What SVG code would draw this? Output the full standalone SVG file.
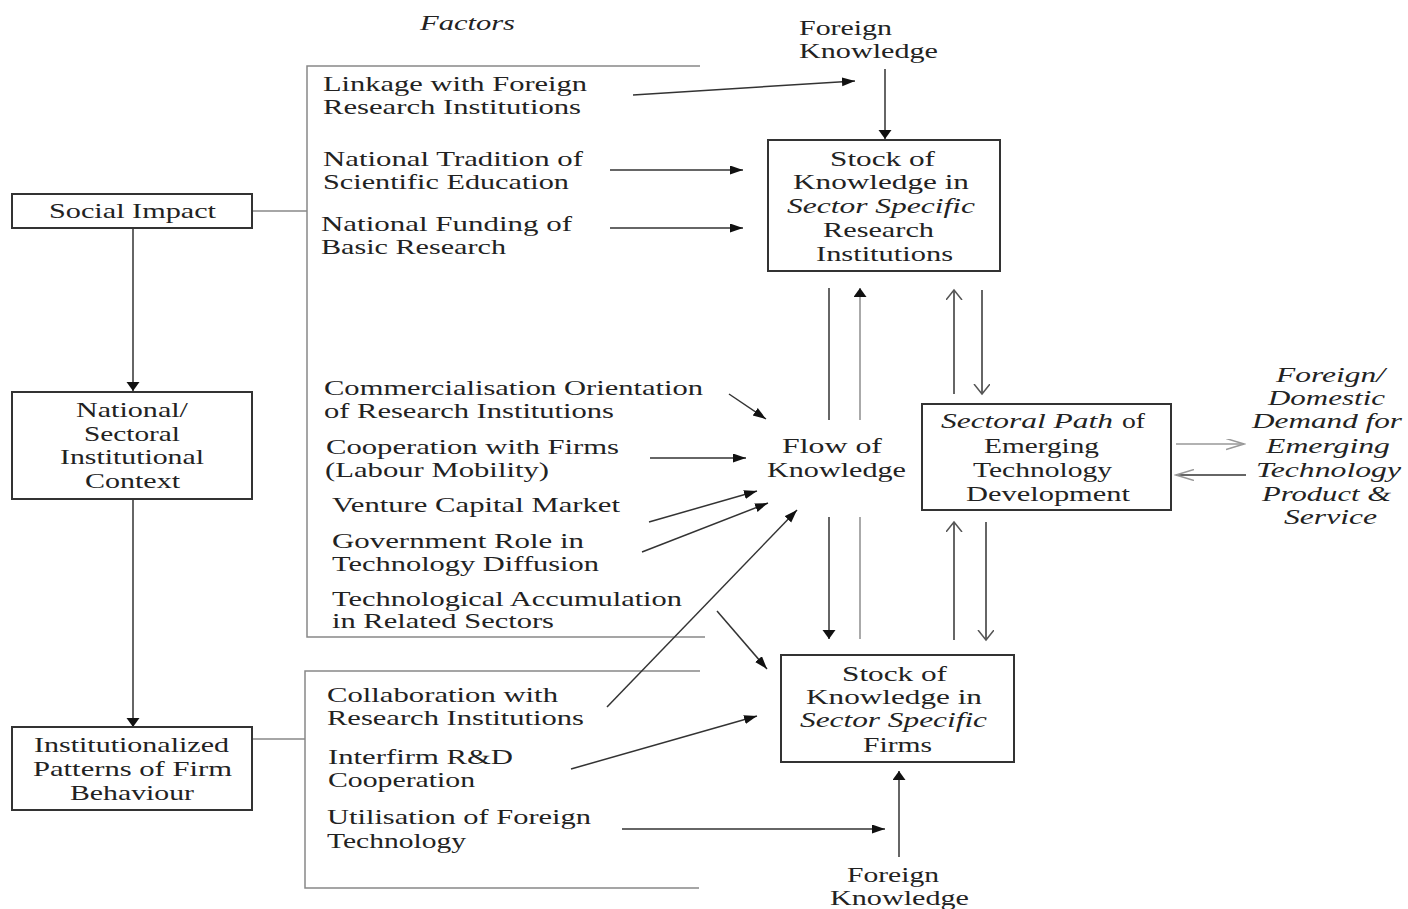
<svg xmlns="http://www.w3.org/2000/svg" width="1408" height="909" viewBox="0 0 1408 909">
<style>
text{font-family:"Liberation Serif","Times New Roman",serif;font-size:21px;fill:#222}
.i{font-style:italic}
.box{fill:#fff;stroke:#333;stroke-width:2}
.ln{fill:none;stroke:#333;stroke-width:1.5}
.br{fill:none;stroke:#888;stroke-width:1.5}
.gr{fill:none;stroke:#aaa;stroke-width:2}
.gr2{fill:none;stroke:#999;stroke-width:1.5}
</style>
<defs>
<marker id="ah" markerUnits="userSpaceOnUse" markerWidth="14" markerHeight="10" refX="13" refY="4.5" orient="auto"><path d="M0,0 L13,4.5 L0,9 z" fill="#111"/></marker>
<marker id="av" markerUnits="userSpaceOnUse" markerWidth="10" markerHeight="14" refX="9" refY="6.5" orient="auto"><path d="M0,0 L9,6.5 L0,13 z" fill="#111"/></marker>
<marker id="ov" markerUnits="userSpaceOnUse" markerWidth="12" markerHeight="18" refX="10" refY="8" orient="auto"><path d="M0,0 L10,8 L0,16" fill="none" stroke="#555" stroke-width="1.5"/></marker>
<marker id="oh" markerUnits="userSpaceOnUse" markerWidth="20" markerHeight="12" refX="18" refY="5.5" orient="auto"><path d="M0,0 L18,5.5 L0,11" fill="none" stroke="#999" stroke-width="1.5"/></marker>
</defs>

<g id="connectors">
<line class="br" x1="252" y1="211" x2="307" y2="211"/>
<polyline class="br" points="700,66 307,66 307,637 705,637"/>
<polyline class="br" points="700,671 305,671 305,888 699,888"/>
<line class="br" x1="253" y1="739" x2="305" y2="739"/>
<line class="ln" x1="133" y1="228" x2="133" y2="391" marker-end="url(#av)"/>
<line class="ln" x1="133" y1="499" x2="133" y2="727" marker-end="url(#av)"/>
<line class="ln" x1="885" y1="69" x2="885" y2="139" marker-end="url(#av)"/>
<line class="ln" x1="633" y1="95" x2="855" y2="81" marker-end="url(#ah)"/>
<line class="ln" x1="610" y1="170" x2="743" y2="170" marker-end="url(#ah)"/>
<line class="ln" x1="610" y1="228" x2="743" y2="228" marker-end="url(#ah)"/>
<line class="ln" x1="729" y1="394" x2="766" y2="419" marker-end="url(#ah)"/>
<line class="ln" x1="650" y1="458" x2="746" y2="458" marker-end="url(#ah)"/>
<line class="ln" x1="649" y1="522" x2="757" y2="491" marker-end="url(#ah)"/>
<line class="ln" x1="642" y1="552" x2="768" y2="503" marker-end="url(#ah)"/>
<line class="ln" x1="717" y1="611" x2="767" y2="669" marker-end="url(#ah)"/>
<line class="ln" x1="607" y1="707" x2="797" y2="510" marker-end="url(#ah)"/>
<line class="ln" x1="571" y1="769" x2="757" y2="716" marker-end="url(#ah)"/>
<line class="ln" x1="622" y1="829" x2="885" y2="829" marker-end="url(#ah)"/>
<line class="ln" x1="899" y1="857" x2="899" y2="771" marker-end="url(#av)"/>
<line class="ln" x1="829" y1="288" x2="829" y2="420"/>
<line class="gr" x1="860" y1="420" x2="860" y2="288" marker-end="url(#av)"/>
<line class="ln" x1="829" y1="517" x2="829" y2="639" marker-end="url(#av)"/>
<line class="gr" x1="860" y1="517" x2="860" y2="639"/>
<line class="ln" x1="954" y1="394" x2="954" y2="290" marker-end="url(#ov)"/>
<line class="ln" x1="982" y1="290" x2="982" y2="394" marker-end="url(#ov)"/>
<line class="ln" x1="954" y1="640" x2="954" y2="522" marker-end="url(#ov)"/>
<line class="ln" x1="986" y1="522" x2="986" y2="640" marker-end="url(#ov)"/>
<line class="gr2" x1="1176" y1="444" x2="1244" y2="444" marker-end="url(#oh)"/>
<line class="ln" x1="1246" y1="475" x2="1176" y2="475" marker-end="url(#oh)"/>
</g>

<g id="social-impact">
<rect class="box" x="12" y="194" width="240" height="34"/>
<text x="49" y="218" textLength="167" lengthAdjust="spacingAndGlyphs">Social Impact</text>
</g>
<g id="national-sectoral-context">
<rect class="box" x="12" y="392" width="240" height="107"/>
<text x="76" y="417" textLength="112" lengthAdjust="spacingAndGlyphs">National/</text>
<text x="84" y="441" textLength="96" lengthAdjust="spacingAndGlyphs">Sectoral</text>
<text x="60" y="464" textLength="144" lengthAdjust="spacingAndGlyphs">Institutional</text>
<text x="85" y="488" textLength="95" lengthAdjust="spacingAndGlyphs">Context</text>
</g>
<g id="institutionalized-patterns">
<rect class="box" x="12" y="727" width="240" height="83"/>
<text x="34" y="752" textLength="195" lengthAdjust="spacingAndGlyphs">Institutionalized</text>
<text x="33" y="776" textLength="199" lengthAdjust="spacingAndGlyphs">Patterns of Firm</text>
<text x="70" y="800" textLength="124" lengthAdjust="spacingAndGlyphs">Behaviour</text>
</g>

<g id="factors-title">
<text class="i" x="420" y="30" textLength="95" lengthAdjust="spacingAndGlyphs">Factors</text>
</g>

<g id="factors-research">
<text x="323" y="91" textLength="264" lengthAdjust="spacingAndGlyphs">Linkage with Foreign</text>
<text x="323" y="114" textLength="258" lengthAdjust="spacingAndGlyphs">Research Institutions</text>
<text x="323" y="166" textLength="260" lengthAdjust="spacingAndGlyphs">National Tradition of</text>
<text x="323" y="189" textLength="246" lengthAdjust="spacingAndGlyphs">Scientific Education</text>
<text x="321" y="231" textLength="251" lengthAdjust="spacingAndGlyphs">National Funding of</text>
<text x="321" y="254" textLength="185" lengthAdjust="spacingAndGlyphs">Basic Research</text>
<text x="324" y="395" textLength="379" lengthAdjust="spacingAndGlyphs">Commercialisation Orientation</text>
<text x="324" y="418" textLength="290" lengthAdjust="spacingAndGlyphs">of Research Institutions</text>
<text x="326" y="454" textLength="293" lengthAdjust="spacingAndGlyphs">Cooperation with Firms</text>
<text x="325" y="477" textLength="224" lengthAdjust="spacingAndGlyphs">(Labour Mobility)</text>
<text x="332" y="512" textLength="288" lengthAdjust="spacingAndGlyphs">Venture Capital Market</text>
<text x="332" y="548" textLength="252" lengthAdjust="spacingAndGlyphs">Government Role in</text>
<text x="332" y="571" textLength="267" lengthAdjust="spacingAndGlyphs">Technology Diffusion</text>
<text x="332" y="606" textLength="350" lengthAdjust="spacingAndGlyphs">Technological Accumulation</text>
<text x="332" y="628" textLength="222" lengthAdjust="spacingAndGlyphs">in Related Sectors</text>
</g>

<g id="factors-firms">
<text x="327" y="702" textLength="231" lengthAdjust="spacingAndGlyphs">Collaboration with</text>
<text x="327" y="725" textLength="257" lengthAdjust="spacingAndGlyphs">Research Institutions</text>
<text x="328" y="764" textLength="185" lengthAdjust="spacingAndGlyphs">Interfirm R&amp;D</text>
<text x="328" y="787" textLength="147" lengthAdjust="spacingAndGlyphs">Cooperation</text>
<text x="327" y="824" textLength="264" lengthAdjust="spacingAndGlyphs">Utilisation of Foreign</text>
<text x="327" y="848" textLength="139" lengthAdjust="spacingAndGlyphs">Technology</text>
</g>

<g id="foreign-knowledge-top">
<text x="799" y="35" textLength="93" lengthAdjust="spacingAndGlyphs">Foreign</text>
<text x="799" y="58" textLength="139" lengthAdjust="spacingAndGlyphs">Knowledge</text>
</g>

<g id="stock-research-institutions">
<rect class="box" x="768" y="140" width="232" height="131"/>
<text x="830" y="166" textLength="105" lengthAdjust="spacingAndGlyphs">Stock of</text>
<text x="793" y="189" textLength="176" lengthAdjust="spacingAndGlyphs">Knowledge in</text>
<text class="i" x="787" y="213" textLength="188" lengthAdjust="spacingAndGlyphs">Sector Specific</text>
<text x="823" y="237" textLength="111" lengthAdjust="spacingAndGlyphs">Research</text>
<text x="816" y="261" textLength="137" lengthAdjust="spacingAndGlyphs">Institutions</text>
</g>

<g id="flow-of-knowledge">
<text x="782" y="453" textLength="100" lengthAdjust="spacingAndGlyphs">Flow of</text>
<text x="767" y="477" textLength="139" lengthAdjust="spacingAndGlyphs">Knowledge</text>
</g>

<g id="sectoral-path">
<rect class="box" x="922" y="404" width="249" height="106"/>
<text class="i" x="941" y="428" textLength="172" lengthAdjust="spacingAndGlyphs">Sectoral Path</text>
<text x="1122" y="428" textLength="23" lengthAdjust="spacingAndGlyphs">of</text>
<text x="984" y="453" textLength="115" lengthAdjust="spacingAndGlyphs">Emerging</text>
<text x="973" y="477" textLength="139" lengthAdjust="spacingAndGlyphs">Technology</text>
<text x="966" y="501" textLength="164" lengthAdjust="spacingAndGlyphs">Development</text>
</g>

<g id="demand">
<text class="i" x="1276" y="382" textLength="109" lengthAdjust="spacingAndGlyphs">Foreign/</text>
<text class="i" x="1268" y="405" textLength="117" lengthAdjust="spacingAndGlyphs">Domestic</text>
<text class="i" x="1252" y="428" textLength="150" lengthAdjust="spacingAndGlyphs">Demand for</text>
<text class="i" x="1266" y="453" textLength="124" lengthAdjust="spacingAndGlyphs">Emerging</text>
<text class="i" x="1256" y="477" textLength="145" lengthAdjust="spacingAndGlyphs">Technology</text>
<text class="i" x="1262" y="501" textLength="129" lengthAdjust="spacingAndGlyphs">Product &amp;</text>
<text class="i" x="1284" y="524" textLength="93" lengthAdjust="spacingAndGlyphs">Service</text>
</g>

<g id="stock-firms">
<rect class="box" x="781" y="655" width="233" height="107"/>
<text x="842" y="681" textLength="105" lengthAdjust="spacingAndGlyphs">Stock of</text>
<text x="806" y="704" textLength="176" lengthAdjust="spacingAndGlyphs">Knowledge in</text>
<text class="i" x="800" y="727" textLength="187" lengthAdjust="spacingAndGlyphs">Sector Specific</text>
<text x="863" y="752" textLength="69" lengthAdjust="spacingAndGlyphs">Firms</text>
</g>

<g id="foreign-knowledge-bottom">
<text x="847" y="882" textLength="92" lengthAdjust="spacingAndGlyphs">Foreign</text>
<text x="830" y="905" textLength="139" lengthAdjust="spacingAndGlyphs">Knowledge</text>
</g>
</svg>
